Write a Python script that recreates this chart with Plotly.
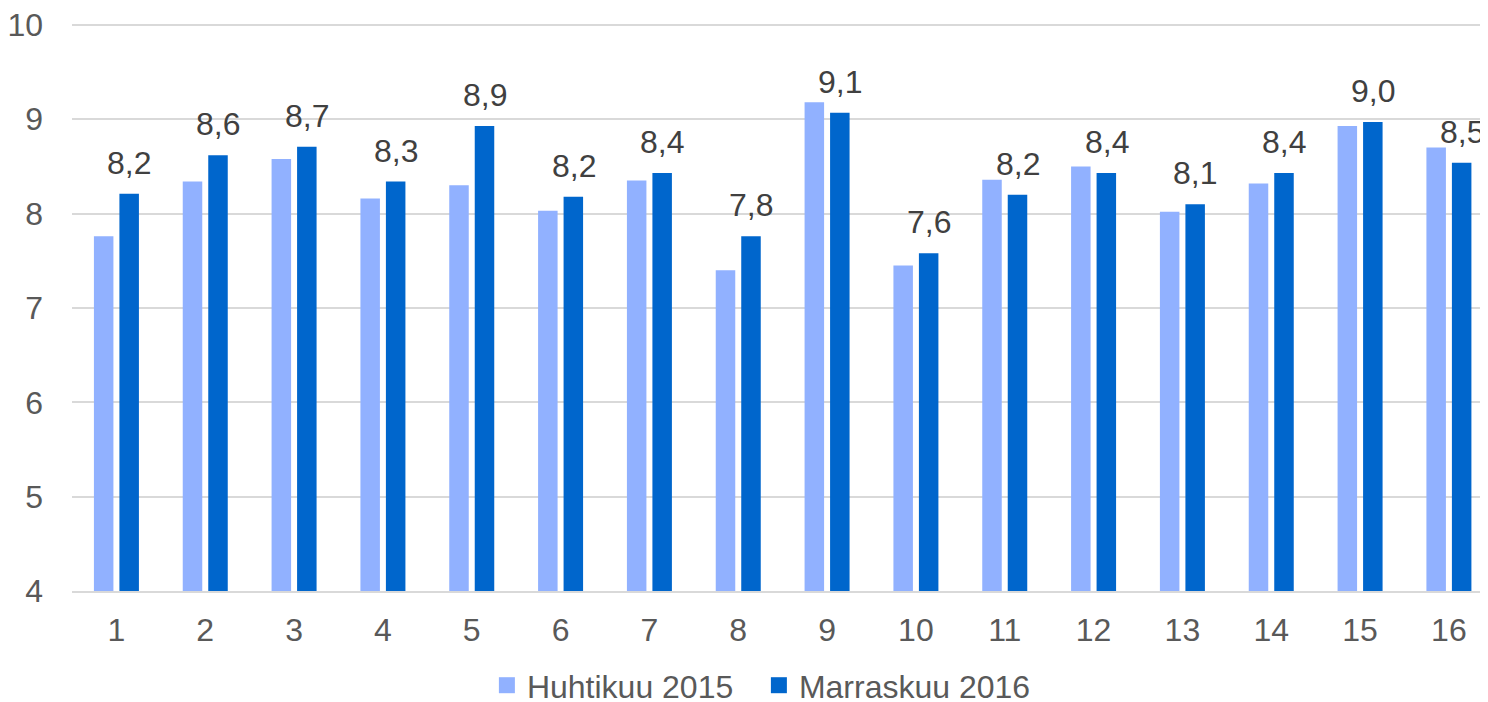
import plotly.graph_objects as go

categories = [str(i) for i in range(1, 17)]
huhtikuu_2015 = [7.76, 8.34, 8.58, 8.16, 8.30, 8.03, 8.35, 7.40, 9.18, 7.45, 8.36, 8.50, 8.02, 8.32, 8.93, 8.70]
marraskuu_2016 = [8.21, 8.62, 8.71, 8.34, 8.93, 8.18, 8.43, 7.76, 9.07, 7.58, 8.20, 8.43, 8.10, 8.43, 8.97, 8.54]
y_ticks = [4, 5, 6, 7, 8, 9, 10]

font_family = "Liberation Sans, Arial, sans-serif"
c_light = "#91B1FF"
c_dark = "#0066CC"
grid_color = "#D9D9D9"

fig = go.Figure()
fig.add_trace(go.Bar(
    x=categories, y=huhtikuu_2015, name="Huhtikuu 2015",
    marker=dict(color=c_light, line=dict(width=0)), showlegend=False,
))
fig.add_trace(go.Bar(
    x=categories, y=marraskuu_2016, name="Marraskuu 2016",
    marker=dict(color=c_dark, line=dict(width=0)), showlegend=False,
))
# legend entries with larger square swatches
for name, col in [("Huhtikuu 2015", c_light), ("Marraskuu 2016", c_dark)]:
    fig.add_trace(go.Scatter(x=[None], y=[None], mode="markers", name=name,
                             marker=dict(symbol="square", size=19, color=col)))

# data labels above the dark bars (x given as category index)
for idx, val in enumerate(marraskuu_2016):
    fig.add_annotation(x=idx, y=val, text=f"{val:.1f}".replace(".", ","),
                       showarrow=False, xanchor="center", yanchor="bottom",
                       xshift=13, yshift=11,
                       font=dict(size=32, color="#404040", family=font_family))

# top gridline (at the edge of the plot area)
fig.add_hline(y=y_ticks[-1], line=dict(color=grid_color, width=2), layer="below")

fig.update_layout(
    width=1488, height=702,
    margin=dict(l=64, r=8, t=16, b=119, autoexpand=False),
    paper_bgcolor="white", plot_bgcolor="white",
    barmode="group", bargap=0.426, bargroupgap=0.235,
    font=dict(family=font_family, size=32, color="#595959"),
    showlegend=True,
    legend=dict(orientation="h", x=0.293, xanchor="left", y=-0.118, yanchor="top",
                font=dict(size=32, color="#595959"), itemwidth=30, tracegroupgap=0,
                entrywidth=227, entrywidthmode="pixels"),
    xaxis=dict(type="category", range=[-0.5, 15.44], showgrid=False, automargin=False,
               showline=True, linecolor=grid_color, linewidth=2,
               ticks="", ticklabelstandoff=10, tickfont=dict(size=32, color="#595959")),
    yaxis=dict(range=[4, 10.01], tickmode="array", tickvals=y_ticks,
               ticktext=[str(t) for t in y_ticks], ticklabeloverflow="allow",
               showgrid=True, gridcolor=grid_color, gridwidth=2,
               zeroline=False, showline=False, ticks="", ticklabelstandoff=28,
               automargin=False, tickfont=dict(size=32, color="#595959")),
)

fig.write_html("out.html")
